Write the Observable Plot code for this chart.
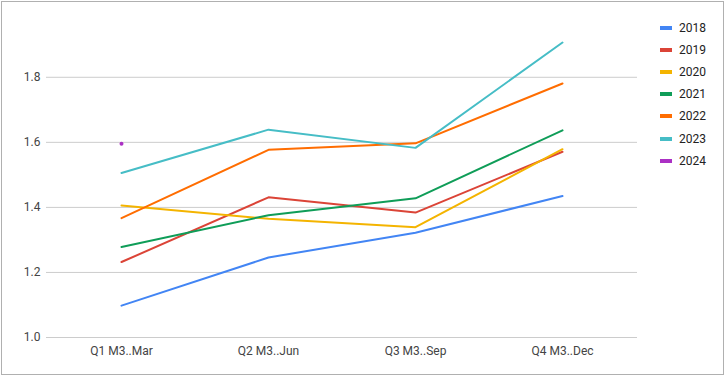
<!DOCTYPE html>
<html>
<head>
<meta charset="utf-8">
<script src="https://cdn.jsdelivr.net/npm/d3@7"></script>
<script src="https://cdn.jsdelivr.net/npm/@observablehq/plot@0.6"></script>
<style>
  html, body { margin: 0; padding: 0; background: #fff; }
  #wrap { position: relative; width: 727px; height: 379px; font-family: Roboto, sans-serif; }
  #frame { position: absolute; left: 1px; top: 1px; width: 721px; height: 372px; border: 1px solid #b0b0b0; pointer-events: none; }
  #legend { position: absolute; left: 660px; top: 17px; }
  .row { display: flex; align-items: center; height: 22.1px; font-size: 12px; color: #222; }
  .sw { width: 12px; height: 4px; margin-right: 7px; }
</style>
</head>
<body>
<div id="wrap"><div id="chart"></div><div id="legend"></div><div id="frame"></div></div>
<script>
const quarters = ["Q1 M3..Mar", "Q2 M3..Jun", "Q3 M3..Sep", "Q4 M3..Dec"];
const years = ["2018", "2019", "2020", "2021", "2022", "2023", "2024"];
const colors = ["#4285f4", "#db4437", "#f4b400", "#0f9d58", "#ff6d01", "#46bdc6", "#ab30c4"];
const v2018 = [1.098, 1.246, 1.322, 1.435];
const v2019 = [1.232, 1.431, 1.384, 1.571];
const v2020 = [1.406, 1.365, 1.339, 1.579];
const v2021 = [1.278, 1.376, 1.428, 1.637];
const v2022 = [1.367, 1.577, 1.597, 1.781];
const v2023 = [1.506, 1.639, 1.583, 1.907];
const v2024 = [1.596];
const yTicks = [1.0, 1.2, 1.4, 1.6, 1.8];

const series = [v2018, v2019, v2020, v2021, v2022, v2023, v2024];
const data = [];
series.forEach((vals, i) => vals.forEach((v, j) => data.push({year: years[i], q: quarters[j], v})));
const single = data.filter(d => d.year === "2024");

const plot = Plot.plot({
  width: 727,
  height: 379,
  marginLeft: 46,
  marginRight: 90,
  marginTop: 28,
  marginBottom: 42,
  style: {fontFamily: "Roboto, sans-serif", fontSize: "12px", color: "#444", background: "transparent"},
  x: {type: "point", domain: quarters, padding: 0.5, label: null, tickSize: 0, tickPadding: 9},
  y: {domain: [1, 1.95], ticks: yTicks, tickFormat: d3.format(".1f"), label: null, tickSize: 0, tickPadding: 6},
  color: {domain: years, range: colors},
  marks: [
    Plot.gridY(yTicks, {stroke: "#cccccc", strokeOpacity: 1, strokeWidth: 1}),
    Plot.line(data.filter(d => d.year !== "2024"), {x: "q", y: "v", z: "year", stroke: "year", strokeWidth: 2}),
    Plot.dot(single, {x: "q", y: "v", fill: "year", r: 2, stroke: null})
  ]
});
document.getElementById("chart").appendChild(plot);

const legend = document.getElementById("legend");
years.forEach((y, i) => {
  const row = document.createElement("div");
  row.className = "row";
  row.innerHTML = `<span class="sw" style="background:${colors[i]}"></span><span>${y}</span>`;
  legend.appendChild(row);
});
</script>
</body>
</html>
